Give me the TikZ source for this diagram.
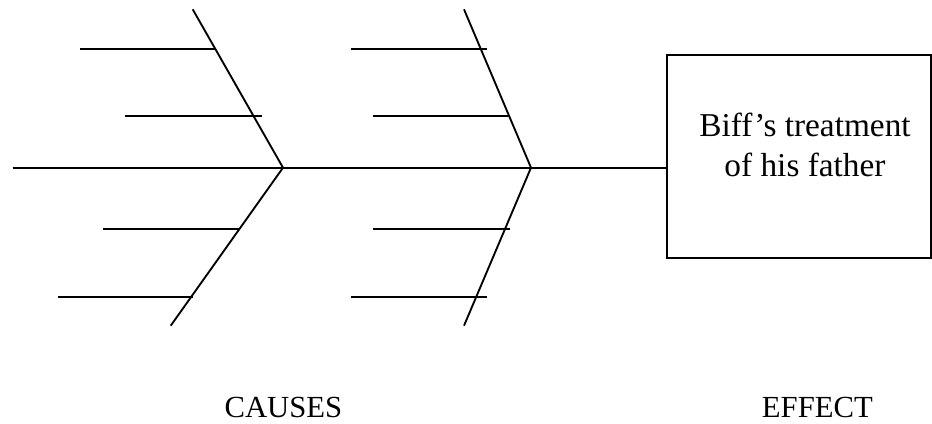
\documentclass[tikz,border=0pt]{standalone}
\usepackage{fontspec}
\setmainfont{Liberation Serif}
\begin{document}
\begin{tikzpicture}[x=0.75pt,y=-0.75pt,
  bone/.style={line width=1.4pt},
  rib/.style={line width=1.4pt},
  boxtext/.style={font=\fontsize{25}{30}\selectfont, inner sep=0pt},
  caption/.style={font=\fontsize{23}{28}\selectfont, inner sep=0pt}]
\useasboundingbox (0,0) rectangle (932,424);

% effect box
\node[draw, line width=1.4pt, minimum width=198pt, minimum height=152.5pt, inner sep=0pt]
  (effect) at (798.8,156.7) {};
\node[boxtext, align=center, anchor=base] (efftext) at (805,176.7) {Biff’s treatment\\of his father};

% spine and joints
\coordinate (tail) at (12.5,167.7);
\coordinate (j1) at (283,167.7);
\coordinate (j2) at (531,167.7);
\draw[bone] (tail) -- (j1) -- (j2) -- (j2 -| effect.west);

% main bones
\coordinate (u1) at (192.7,9.3);
\coordinate (l1) at (170.7,325.7);
\coordinate (u2) at (464,9.3);
\coordinate (l2) at (464,325.7);
\draw[bone] (u1) -- (j1) -- (l1);
\draw[bone] (u2) -- (j2) -- (l2);

% ribs on the first bone
\coordinate (a1) at (80,49);    \coordinate (b1) at (215,49);
\coordinate (a2) at (125,116.3); \coordinate (b2) at (261.7,116.3);
\coordinate (a3) at (102.7,229); \coordinate (b3) at (239.3,229);
\coordinate (a4) at (57.7,296.7); \coordinate (b4) at (193.3,296.7);
\draw[rib] (a1) -- (b1);
\draw[rib] (a2) -- (b2);
\draw[rib] (a3) -- (b3);
\draw[rib] (a4) -- (b4);

% ribs on the second bone
\coordinate (c1) at (350.7,49);   \coordinate (d1) at (486.7,49);
\coordinate (c2) at (373.3,116.3); \coordinate (d2) at (509.3,116.3);
\coordinate (c3) at (373.3,229);   \coordinate (d3) at (510,229);
\coordinate (c4) at (350.7,296.7); \coordinate (d4) at (486.7,296.7);
\draw[rib] (c1) -- (d1);
\draw[rib] (c2) -- (d2);
\draw[rib] (c3) -- (d3);
\draw[rib] (c4) -- (d4);

% captions
\node[caption, anchor=base west] (causes) at (224.3,417.3) {CAUSES};
\node[caption, anchor=base west] (effcap) at (761.7,417.3) {EFFECT};
\end{tikzpicture}
\end{document}
